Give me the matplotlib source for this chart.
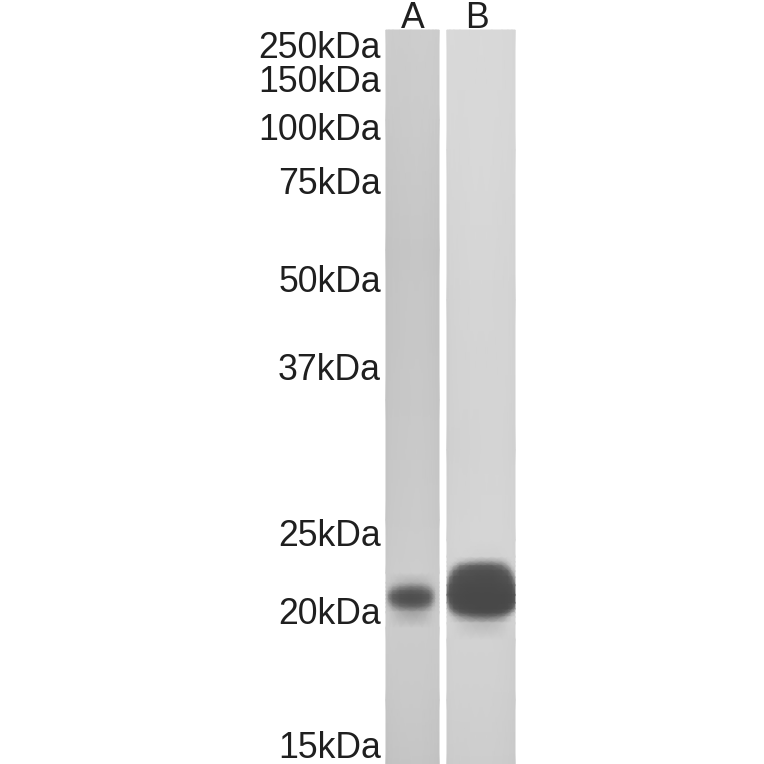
import numpy as np
import matplotlib.pyplot as plt

plt.rcParams['font.family'] = ['Liberation Sans', 'DejaVu Sans']

marker_labels = ["250kDa", "150kDa", "100kDa", "75kDa", "50kDa", "37kDa", "25kDa", "20kDa", "15kDa"]
marker_rows = [44, 79, 126, 180, 279, 367, 532, 611, 744]
lane_names = ["A", "B"]
lane_name_cols = [413, 477]

lane_a_x = [386, 389, 393, 400, 411, 422, 429, 433, 436, 439]
lane_a_y = [30, 120, 250, 400, 520, 573, 583, 587, 591, 595, 599, 603, 607, 612, 628, 700, 764]
lane_a_grey = [
    [205, 205, 204, 204, 205, 206, 205, 205, 204, 204],
    [200, 201, 201, 202, 203, 203, 203, 202, 202, 201],
    [194, 195, 196, 197, 198, 198, 197, 196, 195, 194],
    [195, 197, 198, 199, 200, 200, 199, 198, 197, 196],
    [198, 200, 201, 202, 203, 203, 202, 201, 200, 199],
    [202, 203, 204, 204, 205, 205, 204, 203, 203, 202],
    [200, 198, 192, 180, 172, 176, 188, 196, 200, 201],
    [198, 188, 166, 140, 125, 132, 160, 186, 197, 200],
    [194, 165, 126, 100, 92, 98, 120, 160, 192, 199],
    [186, 132, 98, 84, 80, 84, 96, 140, 188, 198],
    [186, 130, 96, 82, 78, 82, 94, 138, 188, 198],
    [192, 160, 112, 90, 84, 88, 108, 158, 192, 199],
    [198, 186, 150, 116, 104, 112, 144, 182, 197, 200],
    [202, 200, 190, 172, 160, 168, 186, 197, 201, 202],
    [204, 204, 204, 203, 203, 203, 203, 203, 203, 203],
    [198, 199, 200, 201, 201, 201, 200, 199, 199, 198],
    [192, 194, 195, 196, 197, 197, 196, 195, 194, 193],
]

lane_b_x = [447, 450, 454, 460, 470, 481, 492, 502, 508, 512, 515]
lane_b_y = [30, 150, 300, 450, 540, 557, 562, 566, 571, 577, 585, 595, 603, 609, 613, 617, 623, 640, 700, 764]
lane_b_grey = [
    [216, 217, 217, 216, 216, 217, 216, 216, 215, 215, 214],
    [214, 215, 215, 215, 216, 216, 216, 215, 215, 214, 214],
    [208, 210, 211, 212, 213, 213, 213, 212, 212, 211, 210],
    [206, 208, 209, 210, 211, 212, 212, 212, 211, 210, 209],
    [210, 211, 212, 212, 213, 213, 213, 213, 212, 212, 211],
    [210, 210, 211, 212, 210, 208, 208, 210, 212, 212, 211],
    [210, 210, 208, 190, 168, 155, 157, 175, 200, 210, 211],
    [208, 205, 182, 126, 100, 94, 96, 118, 170, 205, 210],
    [205, 180, 118, 88, 82, 80, 80, 86, 106, 170, 205],
    [190, 124, 88, 80, 78, 76, 76, 80, 84, 112, 180],
    [140, 90, 80, 76, 74, 74, 74, 76, 78, 84, 120],
    [100, 80, 76, 74, 72, 72, 72, 72, 74, 76, 86],
    [150, 92, 78, 74, 72, 72, 72, 72, 74, 78, 92],
    [195, 134, 90, 78, 74, 72, 72, 74, 78, 96, 150],
    [208, 180, 134, 96, 82, 78, 78, 84, 112, 170, 200],
    [212, 205, 185, 152, 124, 112, 114, 138, 180, 205, 210],
    [212, 211, 208, 200, 190, 184, 186, 196, 207, 210, 210],
    [208, 209, 210, 210, 210, 210, 210, 209, 208, 207, 206],
    [206, 207, 208, 208, 208, 208, 208, 207, 206, 205, 204],
    [202, 203, 204, 204, 205, 205, 205, 204, 203, 202, 201],
]

fig = plt.figure(figsize=(7.64, 7.64), dpi=100)
ax = fig.add_axes([0, 0, 1, 1])

ax.pcolormesh(lane_a_x, lane_a_y, lane_a_grey, shading="gouraud", cmap="gray", vmin=0, vmax=255)
ax.pcolormesh(lane_b_x, lane_b_y, lane_b_grey, shading="gouraud", cmap="gray", vmin=0, vmax=255)

for label, row in zip(marker_labels, marker_rows):
    ax.text(381, row, label, ha="right", va="center_baseline", fontsize=25.7, color="#1f1f1f")
for name, col in zip(lane_names, lane_name_cols):
    ax.text(col, 14, name, ha="center", va="center_baseline", fontsize=25.7, color="#1f1f1f")

ax.set_xlim(0, 764)
ax.set_ylim(764, 0)
ax.axis("off")

fig.savefig("out.png", dpi=100)
